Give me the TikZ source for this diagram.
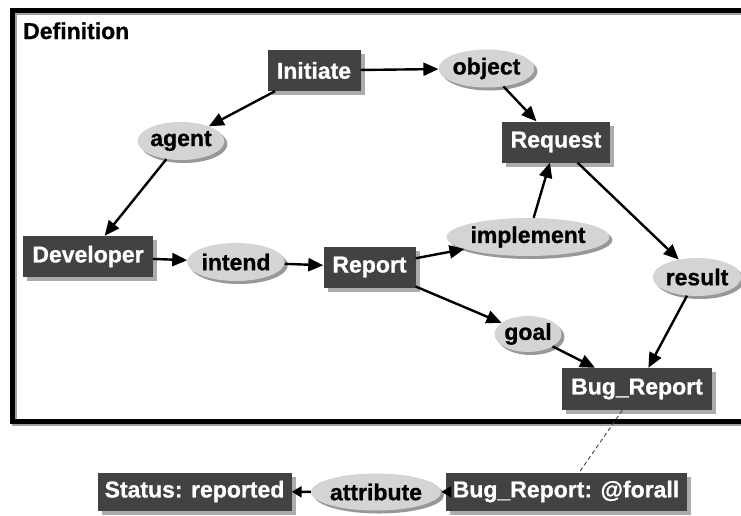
\documentclass[tikz,border=0pt]{standalone}
\usepackage{fontspec}
\setmainfont{Liberation Sans}[BoldFeatures={FakeBold=0.8}]
\usetikzlibrary{shapes.geometric,shadows,arrows.meta}

\definecolor{boxfill}{HTML}{424242}
\definecolor{boxshade}{HTML}{ABABAB}
\definecolor{ellfill}{HTML}{D4D4D4}
\definecolor{ellshade}{HTML}{989898}
\definecolor{frameshade}{HTML}{A0A0A0}

\newcommand{\labelfont}{\fontsize{23}{24}\selectfont\bfseries}

\tikzset{
  concept/.style={rectangle, fill=boxfill, text=white, font=\labelfont,
    inner sep=0pt, minimum height=41pt,
    drop shadow={shadow xshift=4pt, shadow yshift=-4pt, fill=boxshade, opacity=1}},
  relation/.style={ellipse, fill=ellfill, text=black, font=\labelfont,
    inner sep=0pt, minimum height=38pt,
    drop shadow={shadow xshift=3pt, shadow yshift=-3pt, fill=ellshade, opacity=1}},
  link/.style={line width=2.4pt, -{Triangle[length=15pt,width=13pt]}},
  smalllink/.style={line width=2.4pt, -{Triangle[length=10pt,width=11pt]}},
  coref/.style={line width=0.9pt, draw=black!75, dash pattern=on 4pt off 3pt}
}

\begin{document}
\begin{tikzpicture}[x=1pt, y=-1pt]
  \useasboundingbox (0,0) rectangle (741,515);
  \clip (0,0) rectangle (741,515);

  % context frame with its shadow
  \draw[frameshade, line width=5pt] (14,12) |- (760,423);
  \draw[frameshade, line width=5pt] (14,12) -- (760,12);
  \draw[black, line width=5pt] (760,10) -| (12,421) -- (760,421);
  \node[anchor=base west, font=\labelfont, inner sep=0pt]
    (deftitle) at (23,39) {Definition};

  % concepts and relations inside the definition
  \node[concept, minimum width=93pt]  (initiate)  at (314,70.5) {Initiate};
  \node[relation, minimum width=84pt] (object)    at (486.5,68.5) {object};
  \node[concept, minimum width=108pt] (request)   at (556,142)  {Request};
  \node[relation, minimum width=80pt] (agent)     at (181,141)  {agent};
  \node[concept, minimum width=130pt] (developer) at (88,256.5) {Developer};
  \node[relation, minimum width=87pt] (intend)    at (236,262)  {intend};
  \node[concept, minimum width=92pt]  (report)    at (369.5,267) {Report};
  \node[relation, minimum width=134pt] (implement) at (528,237) {implement};
  \node[relation, minimum width=80pt] (result)    at (697,277)  {result};
  \node[relation, minimum width=64pt, minimum height=36pt] (goal) at (528,334) {goal};
  \node[concept, minimum width=150pt, minimum height=42pt] (bug) at (637,389) {Bug\_Report};

  % referent graph below the frame
  \node[concept, minimum width=194pt, minimum height=38pt] (status) at (194.5,491.5) {Status: reported};
  \node[relation, minimum width=104pt, minimum height=37pt] (attribute) at (376,492) {attribute};
  \node[concept, minimum width=241pt, minimum height=38pt] (forall) at (566,491.5) {Bug\_Report: @forall};

  % arcs
  \draw[link] (initiate) -- (object);
  \draw[link] (initiate) -- (agent);
  \draw[link] (agent) -- (developer);
  \draw[link] (developer) -- (intend);
  \draw[link] (intend) -- (report);
  \draw[link] (report) -- (implement);
  \draw[link] (report) -- (goal);
  \draw[link] (object) -- (request);
  \draw[link] (implement) -- (request);
  \draw[link] (request) -- (result);
  \draw[link] (result) -- (bug);
  \draw[link] (goal) -- (bug);

  \draw[smalllink] (forall) -- (attribute);
  \draw[smalllink] (attribute) -- (status);

  % coreference line
  \draw[coref] (bug) -- (forall);
\end{tikzpicture}
\end{document}
